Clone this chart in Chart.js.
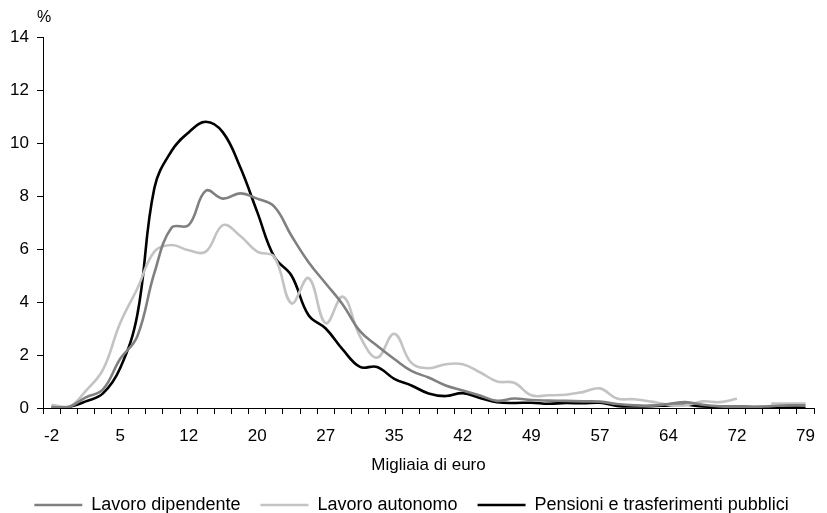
<!DOCTYPE html>
<html>
<head>
<meta charset="utf-8">
<script src="https://cdn.jsdelivr.net/npm/chart.js@4/dist/chart.umd.min.js"></script>
<style>
    html, body { margin: 0; padding: 0; background: #fff; }
    #box { width: 827px; height: 513px; }
</style>
</head>
<body>
<div id="box"><canvas id="chart"></canvas></div>
<script>
// classi di reddito (migliaia di euro), etichetta ogni 4 classi
xLabels = ['-2', '', '', '', '5', '', '', '', '12', '', '', '', '20', '', '', '', '27', '', '', '',
    '35', '', '', '', '42', '', '', '', '49', '', '', '', '57', '', '', '', '64', '', '', '',
    '72', '', '', '', '79'];

yTicks = [0, 2, 4, 6, 8, 10, 12, 14];

seriesNames = ['Lavoro dipendente', 'Lavoro autonomo', 'Pensioni e trasferimenti pubblici'];

lavoroDipendente = [0.04, 0.04, 0.4, 0.7, 1.85, 2.7, 5.1, 6.8, 6.9, 8.2,
    7.9, 8.1, 7.9, 7.6, 6.5, 5.5, 4.7, 3.9, 2.9, 2.35,
    1.85, 1.4, 1.15, 0.85, 0.66, 0.47, 0.27, 0.36, 0.3, 0.28,
    0.27, 0.25, 0.24, 0.15, 0.1, 0.09, 0.15, 0.22, 0.12, 0.06,
    0.05, 0.04, 0.07, 0.1, 0.1];

lavoroAutonomo = [0.12, 0.04, 0.65, 1.45, 3.2, 4.5, 5.9, 6.15, 5.95, 5.9,
    6.9, 6.5, 5.9, 5.7, 3.95, 4.9, 3.2, 4.2, 2.7, 1.9,
    2.8, 1.7, 1.5, 1.65, 1.65, 1.35, 1.0, 0.95, 0.48, 0.48,
    0.5, 0.6, 0.74, 0.36, 0.33, 0.24, 0.12, 0.1, 0.25, 0.22,
    0.35, null, 0.17, 0.17, 0.17];

pensioni = [0.04, 0.04, 0.25, 0.55, 1.5, 3.5, 8.3, 9.7, 10.4, 10.8,
    10.4, 9.1, 7.4, 5.7, 5.0, 3.5, 3.0, 2.2, 1.55, 1.55,
    1.1, 0.85, 0.55, 0.45, 0.56, 0.38, 0.22, 0.19, 0.2, 0.16,
    0.19, 0.18, 0.2, 0.08, 0.06, 0.07, 0.1, 0.12, 0.06, 0.05,
    0.05, 0.04, 0.03, 0.02, 0.01];

seriesColors = ['#808080', '#c3c3c3', '#000000'];

FONT = '"Liberation Sans", Arial, sans-serif';

// scritta "%" sopra l'asse verticale
percentLabel = {
    id: 'percentLabel',
    afterDraw(chart) {
        var ctx = chart.ctx;
        var area = chart.chartArea;
        ctx.save();
        ctx.font = '16px ' + FONT;
        ctx.fillStyle = '#000';
        ctx.textAlign = 'left';
        ctx.textBaseline = 'middle';
        ctx.fillText('%', area.left - 6, area.top - 19);
        ctx.restore();
    }
};

drawChart();

function makeDataset(i, values) {
    return {
        label: seriesNames[i],
        data: values,
        borderColor: seriesColors[i],
        backgroundColor: seriesColors[i],
        borderWidth: 2.6,
        pointRadius: 0,
        tension: 0.4,
        spanGaps: false
    };
}

function drawChart() {
    Chart.defaults.font.family = FONT;
    Chart.defaults.color = '#000';
    return new Chart(document.getElementById('chart'), {
        type: 'line',
        data: {
            labels: xLabels,
            datasets: [
                makeDataset(0, lavoroDipendente),
                makeDataset(1, lavoroAutonomo),
                makeDataset(2, pensioni)
            ]
        },
        plugins: [percentLabel],
        options: {
            responsive: true,
            maintainAspectRatio: false,
            animation: false,
            layout: {
                padding: { left: 0, right: 4, top: 37, bottom: -11 }
            },
            scales: {
                x: {
                    offset: true,
                    afterFit: s => { s.height = 68; },
                    border: { color: '#000', width: 1 },
                    grid: {
                        offset: true,
                        drawOnChartArea: false,
                        drawTicks: true,
                        tickLength: 6,
                        color: '#000'
                    },
                    ticks: {
                        autoSkip: false,
                        maxRotation: 0,
                        padding: 12,
                        font: { size: 17 }
                    },
                    title: {
                        display: true,
                        text: 'Migliaia di euro',
                        font: { size: 17 },
                        padding: { top: 0, bottom: 0 }
                    }
                },
                y: {
                    min: 0,
                    max: 14,
                    afterFit: s => { s.width = 43; },
                    afterBuildTicks: s => { s.ticks = yTicks.map(v => ({ value: v })); },
                    border: { color: '#000', width: 1 },
                    grid: {
                        drawOnChartArea: false,
                        drawTicks: true,
                        tickLength: 6,
                        color: '#000'
                    },
                    ticks: {
                        padding: 8,
                        font: { size: 17 }
                    }
                }
            },
            plugins: {
                legend: {
                    position: 'bottom',
                    labels: {
                        usePointStyle: true,
                        pointStyle: 'line',
                        pointStyleWidth: 48,
                        padding: 20,
                        font: { size: 18 },
                        color: '#000'
                    }
                },
                tooltip: { enabled: false }
            }
        }
    });
}
</script>
</body>
</html>
